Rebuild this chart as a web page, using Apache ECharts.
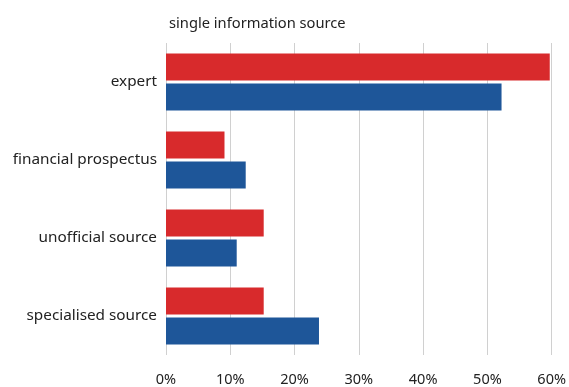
<!DOCTYPE html>
<html>
<head>
<meta charset="utf-8">
<script src="https://cdn.jsdelivr.net/npm/echarts@6/dist/echarts.min.js"></script>
<style>
  html, body { margin: 0; padding: 0; background: #fff; }
  #chart { width: 569px; height: 387px; }
</style>
</head>
<body>
<div id="chart"></div>
<script>
const categories = ['expert', 'financial prospectus', 'unofficial source', 'specialised source'];
const redValues = [59.7, 9.1, 15.2, 15.2];
const blueValues = [52.2, 12.4, 11.0, 23.8];
const xTicks = [0, 10, 20, 30, 40, 50, 60];
const titleText = 'single information source';

const chart = echarts.init(document.getElementById('chart'), null, { renderer: 'canvas' });
const font = 'Noto Sans';
chart.setOption({
  animation: false,
  backgroundColor: '#ffffff',
  title: {
    text: titleText,
    left: 169,
    top: 16,
    padding: 0,
    textStyle: { fontFamily: font, fontSize: 14.7, fontWeight: 'normal', color: '#222' }
  },
  grid: { left: 166, right: 14, top: 43, bottom: 31, containLabel: false },
  xAxis: {
    type: 'value',
    min: xTicks[0],
    max: xTicks[xTicks.length - 1],
    interval: 10,
    axisLine: { show: false },
    axisTick: { show: false },
    splitLine: { show: true, lineStyle: { color: '#d0d0d0', width: 1 } },
    axisLabel: {
      formatter: v => v + '%',
      fontFamily: font, fontSize: 14.5, color: '#222', margin: 17
    }
  },
  yAxis: {
    type: 'category',
    data: categories,
    inverse: true,
    axisLine: { show: false },
    axisTick: { show: false },
    splitLine: { show: false },
    axisLabel: { fontFamily: font, fontSize: 15.3, color: '#222', margin: 9 }
  },
  series: [
    {
      type: 'bar',
      data: redValues,
      barWidth: 27,
      barGap: '12%',
      itemStyle: { color: '#d82a2c' }
    },
    {
      type: 'bar',
      data: blueValues,
      barWidth: 27,
      barGap: '12%',
      itemStyle: { color: '#1e5699' }
    }
  ]
});
</script>
</body>
</html>
